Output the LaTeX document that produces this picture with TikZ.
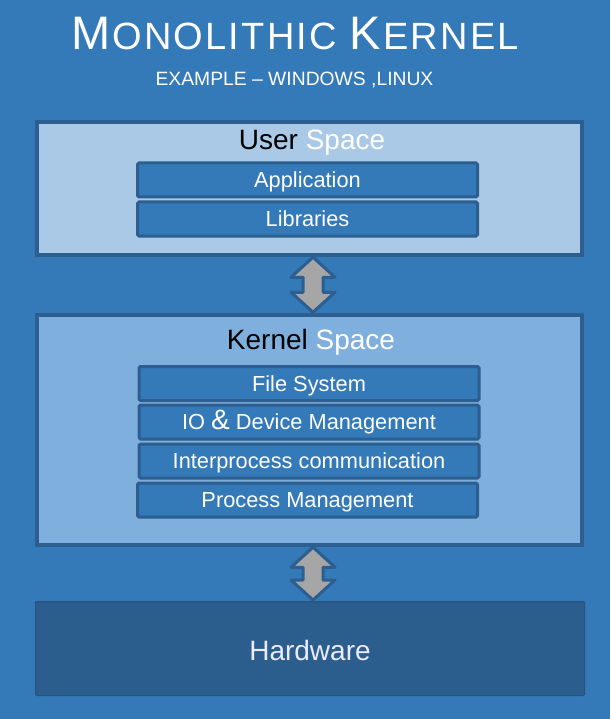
\documentclass[tikz,border=0pt]{standalone}
\usepackage{fontspec}
\setmainfont{Liberation Sans}
\usetikzlibrary{calc}
\definecolor{bgblue}{RGB}{52,121,184}
\definecolor{userfill}{RGB}{169,201,231}
\definecolor{kernfill}{RGB}{127,175,220}
\definecolor{edgeblue}{RGB}{44,94,143}
\definecolor{hwfill}{RGB}{43,93,141}
\definecolor{arrowgray}{RGB}{166,166,166}
\newcommand\lsp{\kern2.2pt}
\newcommand\bigc[1]{{\fontsize{47}{48}\selectfont #1}}
\tikzset{
  outerbox/.style={draw=edgeblue, line width=3.5pt, minimum width=545pt, inner sep=0pt},
  innerbox/.style={draw=edgeblue, line width=3pt, fill=bgblue, rounded corners=1.5pt,
    minimum width=340pt, minimum height=34pt, inner sep=0pt, text=white,
    font=\fontsize{21.8}{24}\selectfont, text height=17pt, text depth=2pt},
  bigtext/.style={font=\fontsize{28}{32}\selectfont, inner sep=0pt, anchor=base},
  blockarrow/.style={draw=edgeblue, line width=3pt, fill=arrowgray, line join=round}
}
\begin{document}
\begin{tikzpicture}[x=1pt,y=-1pt]
\useasboundingbox[fill=bgblue] (0,0) rectangle (610,719);
% title
\node[inner sep=0pt, anchor=base, text=white] (title) at (295,50)
  {\fontsize{38}{40}\selectfont \bigc{M}\lsp O\lsp N\lsp O\lsp L\lsp I\lsp T\lsp H\lsp I\lsp C\ \lsp\bigc{K}\lsp E\lsp R\lsp N\lsp E\lsp L};
\node[inner sep=0pt, anchor=base, text=white] (subtitle) at (294.5,86)
  {\fontsize{19.3}{20}\selectfont EXAMPLE -- WINDOWS ,LINUX};
% user space
\node[outerbox, fill=userfill, minimum height=133pt] (user) at (309.5,188.5) {};
\node[bigtext] (usertxt) at (312,150) {User \textcolor{white}{Space}};
\node[innerbox] (app) at (307.5,180) {Application};
\node[innerbox] (lib) at (307.5,219) {Libraries};
% kernel space
\node[outerbox, fill=kernfill, minimum height=230pt] (kernel) at (309.5,430) {};
\node[bigtext] (kerntxt) at (311,349) {Kernel \textcolor{white}{Space}};
\node[innerbox] (fs) at (309,383.5) {File System};
\node[innerbox] (io) at (309,422) {IO {\fontsize{28}{28}\selectfont\&} Device Management};
\node[innerbox] (ipc) at (309,461) {Interprocess communication};
\node[innerbox] (pm) at (307.5,500) {Process Management};
% hardware
\node[draw=hwfill!90!black, line width=1pt, fill=hwfill, rounded corners=1pt, minimum width=549pt, minimum height=94pt, inner sep=0pt] (hw) at (310,648.5) {};
\node[bigtext, text=white!92!blue] (hwtxt) at (310,660) {Hardware};
% arrows
\draw[blockarrow] let \p1=([xshift=3.5pt,yshift=-0.5pt]user.south), \p2=([xshift=3.5pt,yshift=1pt]kernel.north) in
  (\p1) -- (\x1+22pt,\y1-20pt) -- (\x1+10pt,\y1-20pt) -- (\x1+10pt,\y2+20pt) -- (\x1+22pt,\y2+20pt) --
  (\x1,\y2) -- (\x1-22pt,\y2+20pt) -- (\x1-10pt,\y2+20pt) -- (\x1-10pt,\y1-20pt) -- (\x1-22pt,\y1-20pt) -- cycle;
\draw[blockarrow] let \p1=([xshift=3.5pt,yshift=-0.5pt]kernel.south), \p2=([xshift=3.5pt,yshift=1pt]hw.north) in
  (\p1) -- (\x1+22pt,\y1-20pt) -- (\x1+10pt,\y1-20pt) -- (\x1+10pt,\y2+20pt) -- (\x1+22pt,\y2+20pt) --
  (\x1,\y2) -- (\x1-22pt,\y2+20pt) -- (\x1-10pt,\y2+20pt) -- (\x1-10pt,\y1-20pt) -- (\x1-22pt,\y1-20pt) -- cycle;
\end{tikzpicture}
\end{document}
